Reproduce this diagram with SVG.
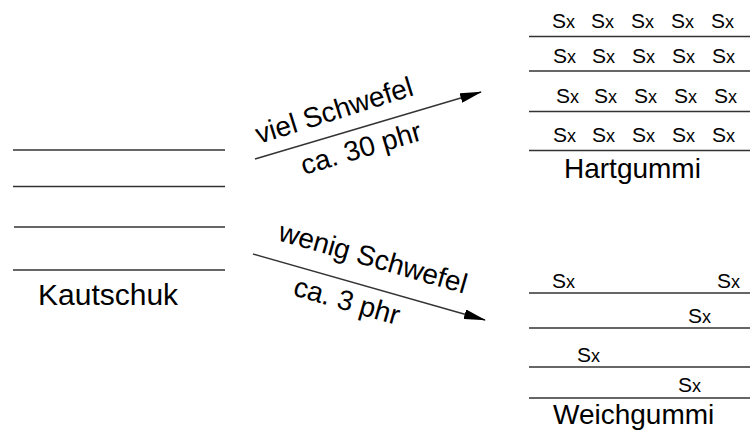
<svg xmlns="http://www.w3.org/2000/svg" width="750" height="435" viewBox="0 0 750 435">
<defs>
<marker id="ah" markerWidth="22" markerHeight="10" refX="21" refY="5" orient="auto" markerUnits="userSpaceOnUse">
<path d="M0,0 L22,5 L0,10 Z" fill="#000"/>
</marker>
<style>
.ln{stroke:#333;stroke-width:1.4;fill:none}
.lbl{font-family:"Liberation Sans",Arial,sans-serif;font-size:28px;fill:#000}
.al{font-family:"Liberation Sans",Arial,sans-serif;font-size:28px;fill:#000}
.sx{font-family:"Liberation Sans",Arial,sans-serif;font-size:21px;fill:#000}
.sx tspan{font-size:18px}
.arr{stroke:#333;stroke-width:1.4;fill:none;marker-end:url(#ah)}
</style>
</defs>
<rect width="750" height="435" fill="#fff"/>
<g id="kautschuk">
<line class="ln" x1="13" y1="150" x2="225" y2="150"/>
<line class="ln" x1="13" y1="186.5" x2="225" y2="186.5"/>
<line class="ln" x1="14" y1="227" x2="225" y2="227"/>
<line class="ln" x1="13" y1="270" x2="225" y2="270"/>
<text class="lbl" x="38" y="305" style="font-size:30px">Kautschuk</text>
</g>
<g id="hartgummi">
<line class="ln" x1="529" y1="36.5" x2="750" y2="36.5"/>
<line class="ln" x1="529" y1="71" x2="750" y2="71"/>
<line class="ln" x1="529" y1="111.5" x2="750" y2="111.5"/>
<line class="ln" x1="529" y1="150.5" x2="750" y2="150.5"/>
<g class="sx">
<text x="552" y="28">S<tspan>x</tspan></text><text x="591" y="28">S<tspan>x</tspan></text><text x="631" y="28">S<tspan>x</tspan></text><text x="671" y="28">S<tspan>x</tspan></text><text x="711" y="28">S<tspan>x</tspan></text>
<text x="553" y="63">S<tspan>x</tspan></text><text x="592" y="63">S<tspan>x</tspan></text><text x="632" y="63">S<tspan>x</tspan></text><text x="672" y="63">S<tspan>x</tspan></text><text x="712" y="63">S<tspan>x</tspan></text>
<text x="556" y="103">S<tspan>x</tspan></text><text x="594" y="103">S<tspan>x</tspan></text><text x="634" y="103">S<tspan>x</tspan></text><text x="674" y="103">S<tspan>x</tspan></text><text x="714" y="103">S<tspan>x</tspan></text>
<text x="553" y="142">S<tspan>x</tspan></text><text x="592" y="142">S<tspan>x</tspan></text><text x="632" y="142">S<tspan>x</tspan></text><text x="672" y="142">S<tspan>x</tspan></text><text x="712" y="142">S<tspan>x</tspan></text>
</g>
<text class="lbl" x="564" y="178">Hartgummi</text>
</g>
<g id="weichgummi">
<line class="ln" x1="529" y1="293" x2="750" y2="293"/>
<line class="ln" x1="529" y1="328" x2="750" y2="328"/>
<line class="ln" x1="529" y1="367" x2="750" y2="367"/>
<line class="ln" x1="529" y1="398" x2="750" y2="398"/>
<g class="sx">
<text x="552" y="288">S<tspan>x</tspan></text><text x="717" y="288">S<tspan>x</tspan></text>
<text x="688" y="323">S<tspan>x</tspan></text>
<text x="577" y="362">S<tspan>x</tspan></text>
<text x="678" y="392">S<tspan>x</tspan></text>
</g>
<text class="lbl" x="553" y="424">Weichgummi</text>
</g>
<g id="connectors">
<line class="arr" x1="255" y1="159" x2="481" y2="92"/>
<text class="al" transform="translate(259,144) rotate(-17.5)">viel Schwefel</text>
<text class="al" transform="translate(304,175) rotate(-16.5)">ca. 30 phr</text>
<line class="arr" x1="253" y1="254" x2="485" y2="320"/>
<text class="al" transform="translate(277,240) rotate(16)">wenig Schwefel</text>
<text class="al" transform="translate(292,295) rotate(16)">ca. 3 phr</text>
</g>
</svg>
